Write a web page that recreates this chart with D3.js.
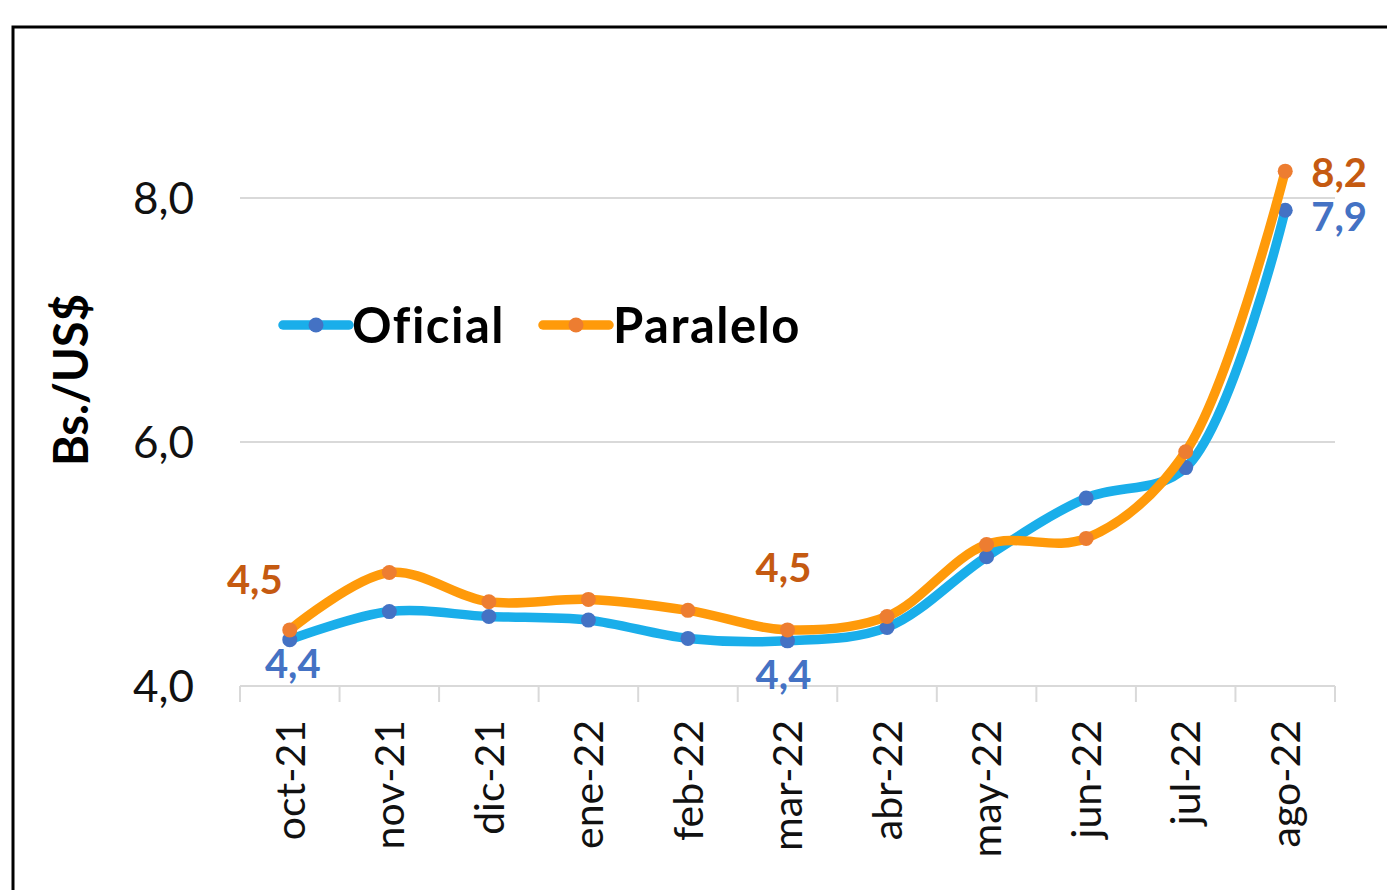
<!DOCTYPE html>
<html><head><meta charset="utf-8">
<script src="https://cdn.jsdelivr.net/npm/d3@7"></script>
<style>
html,body{margin:0;padding:0;background:#fff;}
svg{display:block;}
</style></head>
<body>
<script>
const categories = ["oct-21","nov-21","dic-21","ene-22","feb-22","mar-22","abr-22","may-22","jun-22","jul-22","ago-22"];
const oficial = [4.38, 4.61, 4.57, 4.54, 4.39, 4.37, 4.48, 5.06, 5.54, 5.79, 7.90];
const paralelo = [4.46, 4.93, 4.69, 4.71, 4.62, 4.46, 4.57, 5.16, 5.21, 5.92, 8.22];
const yTicks = [4, 6, 8];
const seriesNames = ["Oficial", "Paralelo"];
const yTitle = "Bs./US$";

const W = 1387, H = 890;
const svg = d3.select("body").append("svg").attr("width", W).attr("height", H);

// frame
svg.append("path").attr("d", `M13,${H+5} L13,27 L${W+5},27`).attr("fill","none").attr("stroke","#000").attr("stroke-width",3);

const x = d3.scaleBand().domain(categories).range([240, 1335]);
const y = d3.scaleLinear().domain([4, 8]).range([686, 198]);
const cx = d => x(d) + x.bandwidth()/2;

const font = "Lato, 'Open Sans', sans-serif";

// gridlines
svg.append("g").selectAll("line").data(yTicks.filter(t => t > 4)).join("line")
  .attr("x1", 240).attr("x2", 1335).attr("y1", d => y(d)).attr("y2", d => y(d))
  .attr("stroke", "#d9d9d9").attr("stroke-width", 2);

// y tick labels
svg.append("g").selectAll("text").data(yTicks).join("text")
  .attr("x", 194).attr("y", d => y(d)).attr("dy", "0.36em")
  .attr("text-anchor", "end").attr("font-family", font).attr("font-size", 44)
  .attr("fill", "#111").text(d => d3.format(".1f")(d).replace(".", ","));

// y title
svg.append("text").attr("transform", `translate(88,380) rotate(-90)`)
  .attr("text-anchor", "middle").attr("font-family", font).attr("font-weight", "bold")
  .attr("font-size", 47).attr("fill", "#000").text(yTitle);

// x axis
const xa = svg.append("g").attr("transform", `translate(0,${y(4)})`);
xa.append("line").attr("x1", 240).attr("x2", 1335).attr("stroke", "#d9d9d9").attr("stroke-width", 2);
const edges = categories.map(c => x(c)).concat([x.range()[1]]);
xa.selectAll("line.tk").data(edges).join("line").attr("class","tk")
  .attr("x1", d => d).attr("x2", d => d).attr("y1", 0).attr("y2", 16)
  .attr("stroke", "#d9d9d9").attr("stroke-width", 2);
xa.selectAll("text").data(categories).join("text")
  .attr("transform", d => `translate(${cx(d)},34) rotate(-90)`)
  .attr("dy", "0.36em").attr("text-anchor", "end")
  .attr("font-family", font).attr("font-size", 41).attr("fill", "#111").text(d => d);

// lines
const seriesData = [
  {name: seriesNames[0], vals: oficial, line: "#1aaeea", mark: "#4472c4", lab: "#4472c4"},
  {name: seriesNames[1], vals: paralelo, line: "#ff9a0a", mark: "#ed7d31", lab: "#c55a11"}
];
const lineGen = d3.line().x((d, i) => cx(categories[i])).y(d => y(d)).curve(d3.curveCatmullRom.alpha(0.5));
seriesData.forEach(s => {
  svg.append("path").attr("d", lineGen(s.vals)).attr("fill", "none")
    .attr("stroke", s.line).attr("stroke-width", 9.5).attr("stroke-linecap", "round").attr("stroke-linejoin", "round");
  svg.append("g").selectAll("circle").data(s.vals).join("circle")
    .attr("cx", (d, i) => cx(categories[i])).attr("cy", d => y(d)).attr("r", 7.5).attr("fill", s.mark);
});

// data labels
const fmt = v => d3.format(".1f")(v).replace(".", ",");
const lbl = (s, i, dx, dy, anchor) => {
  svg.append("text").attr("x", cx(categories[i]) + dx).attr("y", y(s.vals[i]) + dy)
    .attr("dy", "0.36em").attr("text-anchor", anchor)
    .attr("font-family", font).attr("font-weight", "bold").attr("font-size", 40)
    .attr("fill", s.lab).text(fmt(s.vals[i]));
};
lbl(seriesData[1], 0, -35, -50, "middle");
lbl(seriesData[0], 0, 3, 24, "middle");
lbl(seriesData[1], 5, -4, -62, "middle");
lbl(seriesData[0], 5, -4, 34, "middle");
lbl(seriesData[1], 10, 26, 1, "start");
lbl(seriesData[0], 10, 26, 6, "start");

// legend
const leg = [{s: seriesData[0], x0: 283, tx: 352}, {s: seriesData[1], x0: 543, tx: 613}];
leg.forEach(l => {
  const g = svg.append("g");
  g.append("line").attr("x1", l.x0).attr("x2", l.x0 + 66).attr("y1", 325).attr("y2", 325)
    .attr("stroke", l.s.line).attr("stroke-width", 9.5).attr("stroke-linecap", "round");
  g.append("circle").attr("cx", l.x0 + 33).attr("cy", 325).attr("r", 7.5).attr("fill", l.s.mark);
  g.append("text").attr("x", l.tx).attr("y", 325).attr("dy", "0.36em")
    .attr("font-family", font).attr("font-weight", "bold").attr("font-size", 49)
    .attr("letter-spacing", 1.5)
    .attr("fill", "#000").text(l.s.name);
});
</script>
</body></html>
